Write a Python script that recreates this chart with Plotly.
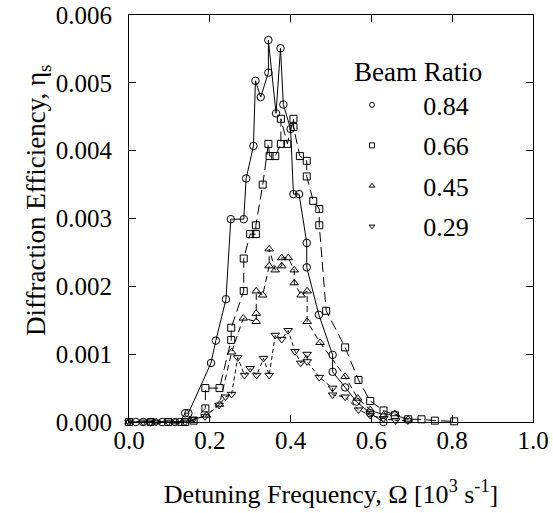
import plotly.graph_objects as go

# Beam ratio 0.84 (circles, solid)
x084 = [0.017, 0.035, 0.054, 0.082, 0.114, 0.126, 0.139, 0.147, 0.203, 0.215, 0.240, 0.252, 0.284,
        0.290, 0.308, 0.313, 0.326, 0.345, 0.345, 0.364, 0.375, 0.382, 0.400, 0.407, 0.421,
        0.440, 0.440, 0.470, 0.504, 0.504, 0.535, 0.563, 0.597, 0.630]
y084 = [0.0, 0.0, 0.0, 0.0, 0.0, 0.0, 0.13, 0.13, 0.87, 1.20, 1.81, 2.99, 2.99,
        3.59, 4.07, 5.03, 4.79, 5.15, 5.63, 4.55, 5.51, 4.68, 4.32, 3.36, 3.36,
        2.64, 2.28, 1.58, 0.99, 0.74, 0.51, 0.30, 0.13, 0.0]

# Beam ratio 0.66 (squares, long dash)
x066 = [0.0, 0.054, 0.097, 0.139, 0.160, 0.189, 0.189, 0.224, 0.253, 0.253, 0.284, 0.284, 0.300,
        0.314, 0.314, 0.331, 0.345, 0.348, 0.362, 0.376, 0.376, 0.392, 0.407, 0.407, 0.423,
        0.440, 0.440, 0.456, 0.471, 0.471, 0.488, 0.535, 0.568, 0.597, 0.630, 0.658, 0.691,
        0.724, 0.757, 0.805]
y066 = [0.0, 0.0, 0.0, 0.0, 0.02, 0.20, 0.50, 0.50, 1.21, 1.39, 1.93, 2.41, 2.77,
        2.77, 2.90, 3.50, 4.10, 3.92, 3.92, 4.10, 4.47, 4.10, 4.47, 4.35, 3.92,
        3.85, 3.62, 3.26, 3.14, 2.90, 1.64, 1.10, 0.62, 0.31, 0.17, 0.10, 0.04,
        0.04, 0.02, 0.01]

# Beam ratio 0.45 (triangles, dash)
x045 = [0.0, 0.067, 0.114, 0.151, 0.192, 0.224, 0.254, 0.283, 0.315, 0.315, 0.315, 0.331,
        0.347, 0.347, 0.362, 0.378, 0.378, 0.394, 0.409, 0.409, 0.426, 0.441, 0.441, 0.473,
        0.535, 0.566, 0.597, 0.630, 0.658, 0.691]
y045 = [0.0, 0.0, 0.0, 0.02, 0.10, 0.26, 1.03, 1.53, 1.48, 1.60, 1.93, 1.87,
        2.30, 2.55, 2.24, 2.30, 2.42, 2.42, 2.24, 2.05, 1.87, 1.93, 1.48, 1.17,
        0.67, 0.35, 0.18, 0.10, 0.12, 0.04]

# Beam ratio 0.29 (inverted triangles, short dash)
x029 = [0.0, 0.035, 0.054, 0.067, 0.097, 0.139, 0.159, 0.188, 0.223, 0.239, 0.254, 0.269, 0.286,
        0.300, 0.316, 0.333, 0.347, 0.362, 0.378, 0.394, 0.411, 0.425, 0.441, 0.441, 0.471,
        0.504, 0.504, 0.535, 0.568, 0.597, 0.630, 0.660, 0.690]
y029 = [0.0, 0.0, 0.0, 0.0, 0.0, 0.0, 0.04, 0.08, 0.25, 0.37, 0.41, 0.95, 0.69,
        0.79, 0.69, 0.94, 0.69, 1.28, 1.22, 1.35, 1.04, 0.87, 1.00, 0.89, 0.66,
        0.50, 0.40, 0.37, 0.18, 0.10, 0.05, 0.02, 0.02]

series_names = ["0.84", "0.66", "0.45", "0.29"]
series_x = [x084, x066, x045, x029]
series_y = [y084, y066, y045, y029]
symbols = ["circle-open", "square-open", "triangle-up-open", "triangle-down-open"]
dashes = ["solid", "10px,5px", "6px,4px", "4px,3px"]
msizes = [7.5, 7, 7.5, 7.5]

x_ticks = [0.0, 0.2, 0.4, 0.6, 0.8, 1.0]
y_ticks = [0.000, 0.001, 0.002, 0.003, 0.004, 0.005, 0.006]

FONT = "Times New Roman, Liberation Serif, serif"
NB = "\u00a0"

fig = go.Figure()
for name, xs, ys, sym, dash, ms in zip(series_names, series_x, series_y, symbols, dashes, msizes):
    fig.add_trace(go.Scatter(
        x=xs, y=[v * 1e-3 for v in ys], mode="lines+markers",
        line=dict(color="black", width=1, dash=dash),
        marker=dict(symbol=sym, size=ms, color="black", line=dict(width=1, color="black")),
        cliponaxis=False, showlegend=False,
    ))
for i, (name, sym) in enumerate(zip(series_names, symbols)):
    fig.add_trace(go.Scatter(
        x=[None], y=[None], mode="markers", name=NB * 4 + "\u2009" + name, legendgroup=name,
        marker=dict(symbol=sym, size=5, color="black", line=dict(width=1, color="black")),
    ))

# Full-window figure; the page's default body margin is removed below.
fig.update_layout(
    width=553, height=513,
    margin=dict(l=129, r=20, t=15, b=91),
    paper_bgcolor="white", plot_bgcolor="white",
    font=dict(family=FONT, color="black", size=24),
    showlegend=True,
    legend=dict(
        x=(352 - 129) / 404, y=0.923, xanchor="left", yanchor="top",
        bgcolor="rgba(0,0,0,0)", borderwidth=0,
        title=dict(text="Beam Ratio", font=dict(family=FONT, size=27)),
        font=dict(family=FONT, size=26),
        itemwidth=30, tracegroupgap=3.7, traceorder="grouped",
    ),
    xaxis=dict(
        range=[0, 1.0], tickvals=x_ticks, ticktext=[f"{v:.1f}" for v in x_ticks],
        ticks="inside", ticklen=7, tickwidth=1, tickcolor="black",
        showline=True, linecolor="black", linewidth=1, mirror="ticks",
        showgrid=False, zeroline=False, automargin=False,
        tickfont=dict(family=FONT, size=25), ticklabelstandoff=-4,
        ticklabeloverflow="allow",
        title=dict(text="Detuning Frequency, Ω [10<sup>3</sup> s<sup>-1</sup>]",
                   font=dict(family=FONT, size=26), standoff=31),
    ),
    yaxis=dict(
        range=[0, 0.006], tickvals=y_ticks, ticktext=[f"{v:.3f}" for v in y_ticks],
        ticks="inside", ticklen=7, tickwidth=1, tickcolor="black",
        showline=True, linecolor="black", linewidth=1, mirror="ticks",
        showgrid=False, zeroline=False, automargin=False,
        tickfont=dict(family=FONT, size=25), ticklabelstandoff=11,
        ticklabeloverflow="allow",
    ),
    annotations=[dict(
        text="Diffraction Efficiency, η<sub>s</sub>", textangle=-90,
        xref="paper", yref="paper", x=(38 - 129) / 404, y=(422 - 201) / 407,
        xanchor="center", yanchor="middle", showarrow=False,
        font=dict(family=FONT, size=27, color="black"),
    )],
)

fig.write_html("out.html", config={"displayModeBar": False},
               post_script="document.body.style.margin='0px';")
